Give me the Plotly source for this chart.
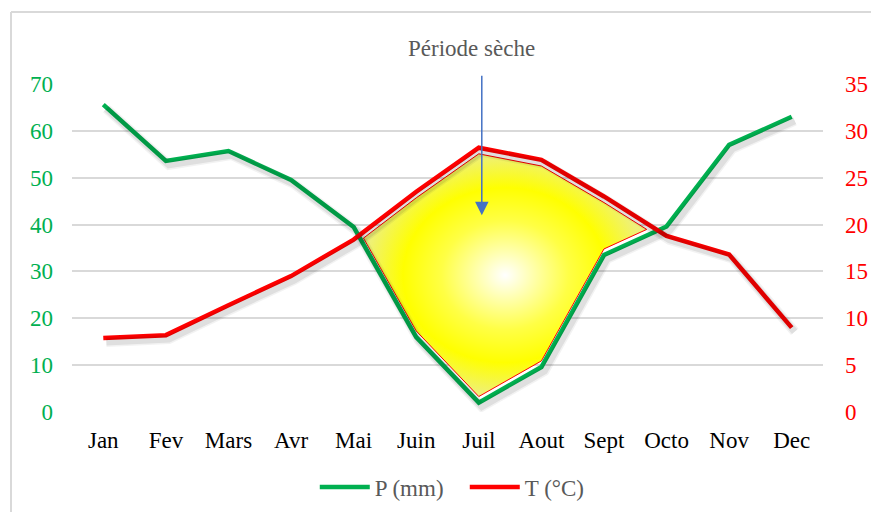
import plotly.graph_objects as go

# Monthly climate data
months = ["Jan", "Fev", "Mars", "Avr", "Mai", "Juin", "Juil", "Aout", "Sept", "Octo", "Nov", "Dec"]
precip_mm = [65.6, 53.6, 55.7, 49.5, 39.5, 16.0, 2.0, 9.6, 33.5, 39.6, 57.0, 63.0]
temp_c = [7.9, 8.2, 11.4, 14.5, 18.4, 23.5, 28.2, 26.9, 23.0, 18.8, 16.8, 9.0]

GREEN = "#00b050"
RED = "#ff0000"
GREY_TXT = "#595959"
FONT = "Liberation Serif"
FS = 23

idx = list(range(len(months)))

# Dry period: where P < 2T (Gaussen). Build the polygon slightly inset from both curves.
inset = 1.3
upper = [2 * t - inset for t in temp_c]
lower = [p + inset for p in precip_mm]
diff = [u - l for u, l in zip(upper, lower)]


def crossing(i):
    # linear interpolation of the crossing between month i and i+1
    f = diff[i] / (diff[i] - diff[i + 1])
    x = i + f
    y = lower[i] + f * (lower[i + 1] - lower[i])
    return x, y


start = next(i for i in range(len(diff) - 1) if diff[i] <= 0 < diff[i + 1])
end = next(i for i in range(start + 1, len(diff) - 1) if diff[i] > 0 >= diff[i + 1])
x0, y0 = crossing(start)
x1, y1 = crossing(end)
inner = list(range(start + 1, end + 1))
poly_x = [x0] + inner + [x1] + inner[::-1] + [x0]
poly_y = [y0] + [upper[i] for i in inner] + [y1] + [lower[i] for i in inner[::-1]] + [y0]

# plot-area geometry (px) used for the soft drop shadow offset
PLOT_W, PLOT_H = 751, 328
SHX, SHY = 3, 4
x_shift = SHX * 12 / PLOT_W
p_shift = SHY * 70 / PLOT_H
t_shift = SHY * 35 / PLOT_H

fig = go.Figure()

# drop shadows drawn on slightly offset hidden axes
for w, a in [(10, 0.05), (7, 0.08)]:
    fig.add_trace(go.Scatter(x=idx, y=precip_mm, mode="lines", xaxis="x2", yaxis="y3",
                             line=dict(color=f"rgba(0,0,0,{a})", width=w),
                             showlegend=False, hoverinfo="skip"))
    fig.add_trace(go.Scatter(x=idx, y=temp_c, mode="lines", xaxis="x2", yaxis="y4",
                             line=dict(color=f"rgba(0,0,0,{a})", width=w),
                             showlegend=False, hoverinfo="skip"))

fig.add_trace(go.Scatter(
    x=poly_x, y=poly_y, mode="lines", fill="toself",
    line=dict(color=RED, width=1),
    fillgradient=dict(type="radial",
                      colorscale=[[0, "#ffffff"], [0.45, "#ffff45"], [0.72, "#ffff00"], [1, "#eef07a"]]),
    showlegend=False, hoverinfo="skip",
))

fig.add_trace(go.Scatter(
    x=idx, y=precip_mm, name="P (mm)", mode="lines",
    line=dict(color=GREEN, width=4.5),
))
fig.add_trace(go.Scatter(
    x=idx, y=temp_c, name="T (°C)", mode="lines", yaxis="y2",
    line=dict(color=RED, width=4.5),
))

hidden = dict(showgrid=False, zeroline=False, showline=False, showticklabels=False, ticks="")

fig.update_layout(
    width=871, height=512,
    margin=dict(l=72, r=48, t=84, b=100, autoexpand=False),
    paper_bgcolor="white", plot_bgcolor="white",
    font=dict(family=FONT, size=FS, color="black"),
    xaxis=dict(
        range=[-0.5, 11.5], tickvals=idx, ticktext=months,
        showgrid=False, zeroline=False, showline=False, ticks="",
        tickfont=dict(family=FONT, size=FS, color="black"),
        ticklabelstandoff=12, automargin=False,
    ),
    xaxis2=dict(range=[-0.5 - x_shift, 11.5 - x_shift], overlaying="x", **hidden),
    yaxis=dict(
        range=[0, 70], dtick=10, showgrid=True, gridcolor="#d9d9d9", gridwidth=1.5,
        zeroline=False, showline=False, ticks="",
        tickfont=dict(family=FONT, size=FS, color=GREEN),
        ticklabelstandoff=18, automargin=False,
    ),
    yaxis2=dict(
        range=[0, 35], dtick=5, overlaying="y", side="right", showgrid=False,
        zeroline=False, showline=False, ticks="",
        tickfont=dict(family=FONT, size=FS, color=RED),
        ticklabelstandoff=21, automargin=False,
    ),
    yaxis3=dict(range=[p_shift, 70 + p_shift], overlaying="y", **hidden),
    yaxis4=dict(range=[t_shift, 35 + t_shift], overlaying="y", **hidden),
    legend=dict(
        orientation="h", x=0.523, xanchor="center", y=-0.229, yanchor="middle",
        font=dict(family=FONT, size=FS, color=GREY_TXT),
        itemwidth=50, entrywidth=85,
    ),
    shapes=[
        dict(type="line", xref="paper", yref="paper", x0=-0.0812, x1=1.2,
             y0=1.2195, y1=1.2195, line=dict(color="#d9d9d9", width=2)),
        dict(type="line", xref="paper", yref="paper", x0=-0.0812, x1=-0.0812,
             y0=-0.4, y1=1.2195, line=dict(color="#d9d9d9", width=2)),
    ],
    annotations=[
        dict(text="Période sèche", xref="paper", yref="paper", x=0.532, y=1.107,
             xanchor="center", yanchor="middle",
             showarrow=False, font=dict(family=FONT, size=FS, color=GREY_TXT)),
        dict(text="", x=6, y=42, xref="x", yref="y", xshift=3,
             showarrow=True, ax=0, ay=-141, arrowhead=2, arrowsize=1.8,
             arrowwidth=1.5, arrowcolor="#4472c4"),
    ],
)

fig.write_html("out.html")
